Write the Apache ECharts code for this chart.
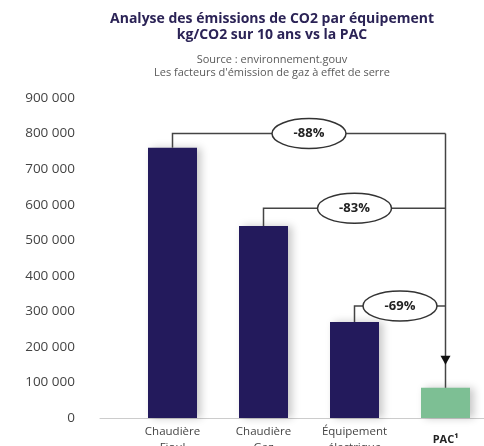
<!DOCTYPE html>
<html><head><meta charset="utf-8">
<script src="https://cdn.jsdelivr.net/npm/echarts@6/dist/echarts.min.js"></script>
<style>html,body{margin:0;padding:0;background:#fff}#c{width:484px;height:446px}</style>
</head><body><div id="c"></div>
<script>
const categories = ['Chaudière\nFioul', 'Chaudière\nGaz', 'Équipement\nélectrique', 'PAC¹'];
const emissions = [760000, 540000, 270000, 85000];
const barColors = ['#231a5c', '#231a5c', '#231a5c', '#7dbf94'];
const yMin = 0, yMax = 900000, yInterval = 100000;
const compareFrom = [0, 1, 2];
const compareLevels = [800000, 590000, 315000];
const compareLabels = ['-88%', '-83%', '-69%'];
const targetIndex = 3;

const FONT = '"Open Sans", "Noto Sans", sans-serif';
const chart = echarts.init(document.getElementById('c'), null, {renderer: 'canvas'});
const fmt = v => String(v).replace(/\B(?=(\d{3})+(?!\d))/g, ' ');

const annData = compareFrom.map((f, i) => [f, compareLevels[i], emissions[f], targetIndex, emissions[targetIndex]]);

chart.setOption({
  animation: false,
  backgroundColor: '#fff',
  title: [
    {text: 'Analyse des émissions de CO2 par équipement\nkg/CO2 sur 10 ans vs la PAC', left: 272, top: 11, padding: 0, textAlign: 'center',
     textStyle: {fontFamily: FONT, fontWeight: 'bold', fontSize: 14, lineHeight: 16, color: '#2b2356'}},
    {text: 'Source : environnement.gouv\nLes facteurs d\'émission de gaz à effet de serre', left: 272, top: 53, padding: 0, textAlign: 'center',
     textStyle: {fontFamily: FONT, fontWeight: 'normal', fontSize: 11, lineHeight: 13, color: '#5a5a5a'}}
  ],
  grid: [
    {left: 100, right: 0, top: 98, bottom: 28, outerBoundsMode: 'none', containLabel: false},
    {left: 127, right: -7, top: 98, bottom: 28, outerBoundsMode: 'none', containLabel: false}
  ],
  xAxis: [
    {type: 'category', gridIndex: 0, data: categories, axisLine: {show: true, lineStyle: {color: '#cccccc', width: 1}},
     axisTick: {show: false}, axisLabel: {show: false}, splitLine: {show: false}},
    {type: 'category', gridIndex: 1, data: categories, axisLine: {show: false}, axisTick: {show: false},
     axisLabel: {margin: 22, verticalAlign: 'middle', lineHeight: 16, fontFamily: FONT, fontSize: 11.5, color: '#444',
       formatter: (v, i) => i === targetIndex ? '{b|' + v + '}' : v,
       rich: {b: {fontWeight: 'bold', fontFamily: FONT, fontSize: 11, color: '#222'}}}}
  ],
  yAxis: [
    {type: 'value', gridIndex: 0, min: yMin, max: yMax, interval: yInterval, axisLine: {show: false}, axisTick: {show: false},
     splitLine: {show: false}, axisLabel: {margin: 25, fontFamily: FONT, fontSize: 13.5, color: '#444', formatter: fmt}},
    {type: 'value', gridIndex: 1, min: yMin, max: yMax, interval: yInterval, show: false, splitLine: {show: false}}
  ],
  series: [
    {type: 'bar', xAxisIndex: 1, yAxisIndex: 1, barWidth: 49,
     data: emissions.map((v, i) => ({value: v, itemStyle: {color: barColors[i]}})),
     itemStyle: {shadowBlur: 8, shadowColor: 'rgba(0,0,0,0.22)', shadowOffsetX: 4, shadowOffsetY: 0}},
    {type: 'custom', xAxisIndex: 1, yAxisIndex: 1, coordinateSystem: 'cartesian2d', silent: true, clip: false, z: 10,
     encode: {x: 0, y: 1}, data: annData,
     renderItem: function (params, api) {
       const from = api.value(0), level = api.value(1), top = api.value(2), to = api.value(3), tTop = api.value(4);
       const pTop = api.coord([from, top]);
       const pLvl = api.coord([from, level]);
       const pEnd = api.coord([to, level]);
       const pTarget = api.coord([to, tTop]);
       const midX = (pLvl[0] + pEnd[0]) / 2;
       const rx = 37, ry = 15;
       const ls = {stroke: '#444', lineWidth: 1.5, fill: null};
       const children = [
         {type: 'polyline', shape: {points: [pTop, pLvl, [midX - rx, pLvl[1]]]}, style: ls},
         {type: 'line', shape: {x1: midX + rx, y1: pLvl[1], x2: pEnd[0], y2: pEnd[1]}, style: ls},
         {type: 'ellipse', shape: {cx: midX, cy: pLvl[1], rx: rx, ry: ry}, style: {stroke: '#333', lineWidth: 1.5, fill: '#fff'}},
         {type: 'text', x: midX, y: pLvl[1], style: {text: compareLabels[params.dataIndex], align: 'center', verticalAlign: 'middle',
           font: 'bold 13px ' + FONT, fill: '#222'}}
       ];
       if (params.dataIndex === 0) {
         const tip = pTarget[1] - 23;
         children.push({type: 'line', shape: {x1: pEnd[0], y1: pEnd[1], x2: pTarget[0], y2: pTarget[1]}, style: ls});
         children.push({type: 'polygon', shape: {points: [[pTarget[0] - 5, tip - 9], [pTarget[0] + 5, tip - 9], [pTarget[0], tip]]},
           style: {fill: '#111'}});
       }
       return {type: 'group', children: children};
     }}
  ]
});
</script>
</body></html>
